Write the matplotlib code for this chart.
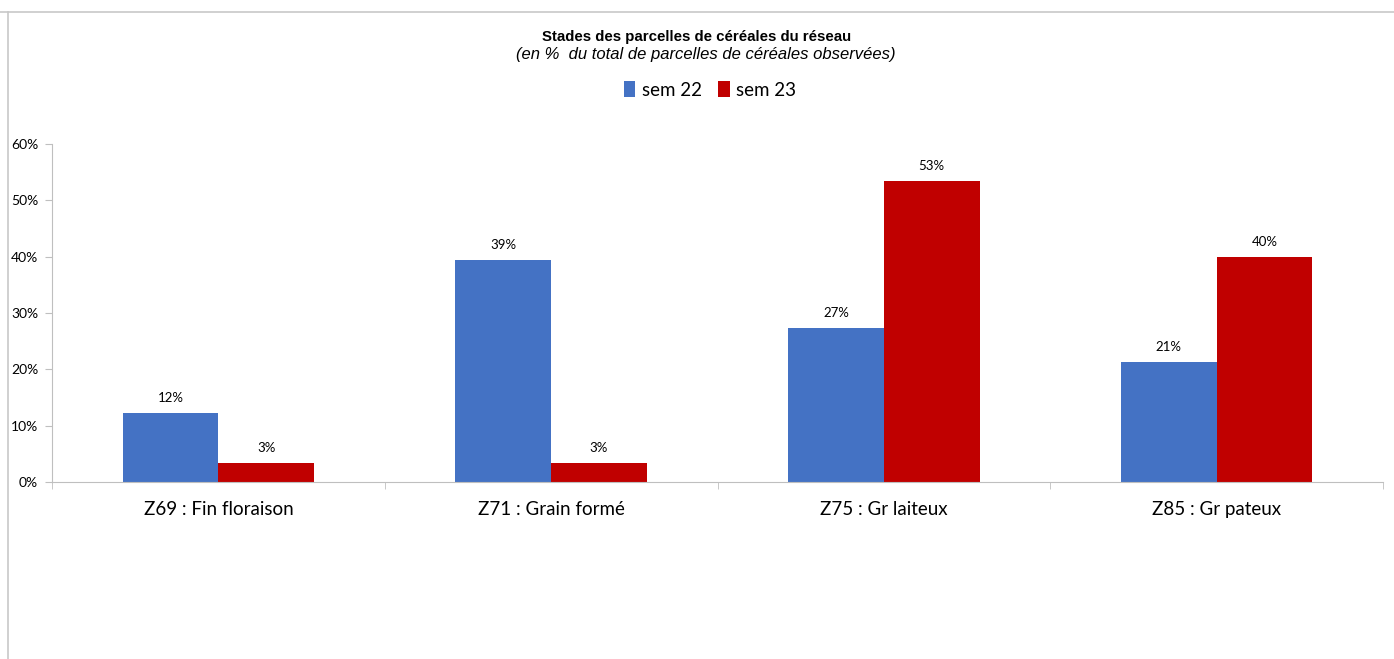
import numpy as np
import matplotlib.pyplot as plt
from matplotlib.ticker import FixedLocator, PercentFormatter

# ------------------ DATA ------------------
categories = ["Z69 : Fin floraison", "Z71 : Grain formé", "Z75 : Gr laiteux", "Z85 : Gr pateux"]
sem22 = [12.2, 39.4, 27.3, 21.3]
sem23 = [3.4, 3.4, 53.4, 40.0]
series_names = ["sem 22", "sem 23"]
yticks = [0, 10, 20, 30, 40, 50, 60]

BLUE = "#4472C4"
RED = "#C00000"
GREY = "#BFBFBF"

plt.rcParams["font.family"] = ["Lato", "DejaVu Sans"]

# ------------------ PLOT ------------------
fig = plt.figure(figsize=(13.94, 6.59), dpi=100)
ax = fig.add_axes([52 / 1394, 1 - 482 / 659, (1383 - 52) / 1394, (482 - 144) / 659])

x = np.arange(len(categories))
w = 0.288
b1 = ax.bar(x - w / 2, sem22, width=w, color=BLUE, label=series_names[0])
b2 = ax.bar(x + w / 2, sem23, width=w, color=RED, label=series_names[1])

for bars in (b1, b2):
    for rect in bars:
        v = rect.get_height()
        ax.annotate(f"{v:.0f}%", (rect.get_x() + rect.get_width() / 2, v),
                    xytext=(0, 6.5), textcoords="offset points",
                    ha="center", va="bottom", fontsize=9.5)

ax.set_xlim(-0.5, len(categories) - 0.5)
ax.set_ylim(0, 60)
ax.set_yticks(yticks)
ax.yaxis.set_major_formatter(PercentFormatter(decimals=0))
ax.tick_params(axis="y", labelsize=10, length=5, color=GREY, pad=5)

ax.set_xticks(x)
ax.set_xticklabels(categories, fontsize=13.5)
ax.tick_params(axis="x", which="major", length=0, pad=14)
ax.xaxis.set_minor_locator(FixedLocator(np.arange(len(categories) + 1) - 0.5))
ax.tick_params(axis="x", which="minor", length=5, color=GREY)

for s in ("top", "right"):
    ax.spines[s].set_visible(False)
for s in ("left", "bottom"):
    ax.spines[s].set_color(GREY)

# titles
fig.text(697 / 1394, 1 - 37 / 659, "Stades des parcelles de céréales du réseau",
         ha="center", va="center", fontsize=10.8, fontweight="bold",
         family=["Liberation Sans", "DejaVu Sans"])
fig.text(706 / 1394, 1 - 54 / 659, "(en %  du total de parcelles de céréales observées)",
         ha="center", va="center", fontsize=12, style="italic",
         family=["Liberation Sans", "DejaVu Sans"])

fig.legend(loc="center", bbox_to_anchor=(710 / 1394, 1 - 90 / 659), ncol=2,
           frameon=False, fontsize=13.5, handlelength=0.6, handleheight=0.9,
           handletextpad=0.35, columnspacing=0.9)

# outer frame (top and left visible)
fig.add_artist(plt.Line2D([0, 1], [1 - 12 / 659] * 2, color="#C8C8C8", lw=1.2,
                          transform=fig.transFigure))
fig.add_artist(plt.Line2D([8 / 1394] * 2, [0, 1 - 12 / 659], color="#C8C8C8", lw=1.2,
                          transform=fig.transFigure))

fig.savefig("out.png", dpi=100)
